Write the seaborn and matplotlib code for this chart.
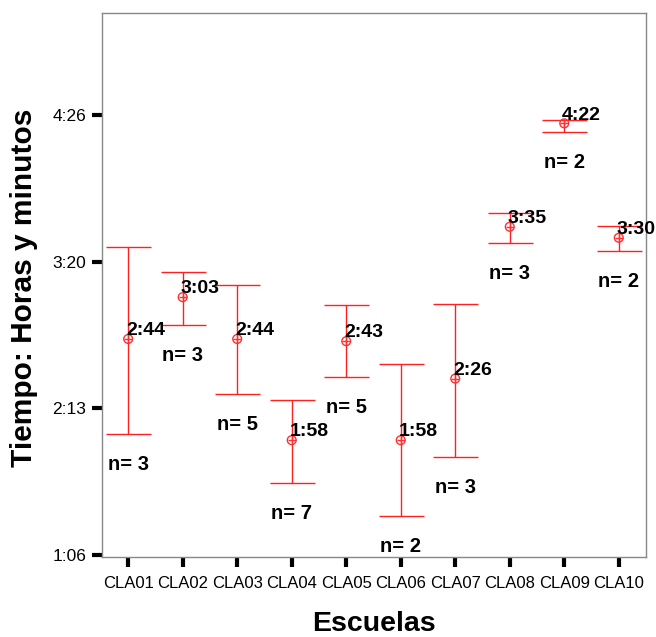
import numpy as np
import pandas as pd
import matplotlib
matplotlib.use("Agg")
import matplotlib.pyplot as plt
import seaborn as sns

# ------------------------------
# DATA (time in seconds)
# ------------------------------
schools = ["CLA01", "CLA02", "CLA03", "CLA04", "CLA05",
           "CLA06", "CLA07", "CLA08", "CLA09", "CLA10"]
means = [9890, 11030, 9890, 7130, 9830, 7130, 8810, 12950, 15770, 12650]
lower = [7300, 10270, 8390, 5960, 8850, 5060, 6670, 12510, 15540, 12290]
upper = [12400, 11720, 11360, 8230, 10820, 9210, 10850, 13330, 15860, 12970]
counts = [3, 3, 5, 7, 5, 2, 3, 3, 2, 2]
yticks = [4000, 8000, 12000, 16000]

df = pd.DataFrame({"Escuela": schools, "Media": means,
                   "Inf": lower, "Sup": upper, "n": counts})


def hmm(sec):
    sec = int(sec)
    return "%d:%02d" % (sec // 3600, (sec % 3600) // 60)


# ------------------------------
# STYLE
# ------------------------------
sns.set_style("white")
plt.rcParams["font.family"] = ["Liberation Sans", "DejaVu Sans"]
plt.rcParams["text.color"] = "black"
plt.rcParams["axes.labelcolor"] = "black"
plt.rcParams["xtick.color"] = "black"
plt.rcParams["ytick.color"] = "black"

fig = plt.figure(figsize=(6.56, 6.37), dpi=100)
ax = fig.add_axes([0.1555, 0.1256, 0.8293, 0.854])

# error bars
yerr = [df["Media"] - df["Inf"], df["Sup"] - df["Media"]]
ax.errorbar(df["Escuela"], df["Media"], yerr=yerr, fmt="none",
            ecolor="#ff2020", elinewidth=1, capsize=16.2, capthick=1)

# mean markers
sns.scatterplot(data=df, x="Escuela", y="Media", ax=ax, marker="o",
                s=40, facecolor="none", edgecolor="#ff3030", linewidth=1,
                zorder=3)
sns.scatterplot(data=df, x="Escuela", y="Media", ax=ax, marker="+",
                s=40, color="#ff3030", linewidth=1, zorder=3)

# labels
for i, row in df.iterrows():
    ax.annotate(hmm(row["Media"]), (i, row["Media"]), xytext=(-1.5, 6),
                textcoords="offset points", ha="left", va="center",
                fontsize=14, fontweight="bold", zorder=4)
    ax.annotate("n= %d" % row["n"], (i, row["Inf"]), xytext=(0, -22),
                textcoords="offset points", ha="center", va="center",
                fontsize=14.5, fontweight="bold")

# axes
ax.set_xlim(-0.48, 9.5)
ax.set_ylim(3945, 18779)
ax.set_yticks(yticks)
ax.set_yticklabels([hmm(t) for t in yticks])
ax.tick_params(axis="both", which="major", direction="out", length=7.5,
               width=3, labelsize=12.5, pad=4, left=True, bottom=True)
ax.tick_params(axis="x", labelsize=12, pad=6)
for s in ax.spines.values():
    s.set_color("#888888")
    s.set_linewidth(1)

ax.set_xlabel("Escuelas", fontsize=20.5, fontweight="bold")
ax.set_ylabel("Tiempo: Horas y minutos", fontsize=21.5, fontweight="bold")
ax.xaxis.set_label_coords(0.5, -0.1)
ax.yaxis.set_label_coords(-0.118, 0.495)

plt.savefig("out.png", dpi=100)
